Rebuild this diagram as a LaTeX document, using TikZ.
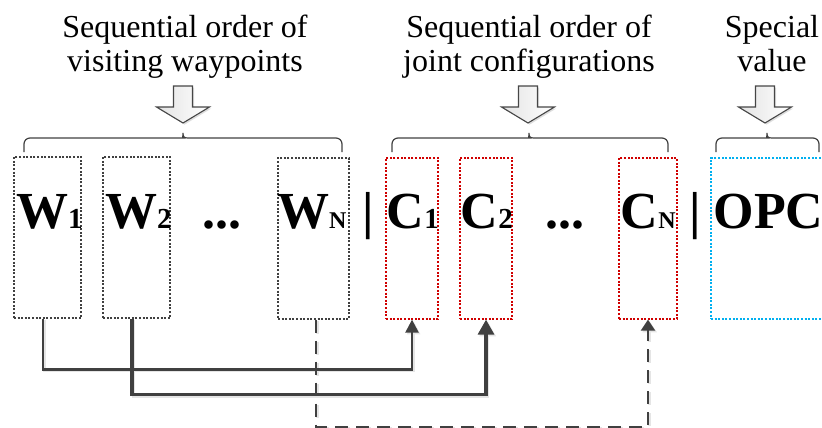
\documentclass[tikz,border=0pt]{standalone}
\usepackage{fontspec}
\setmainfont{Liberation Serif}
\usetikzlibrary{arrows.meta,shadows}

\definecolor{ink}{HTML}{404040}
\definecolor{cfgred}{HTML}{D00000}
\definecolor{opccyan}{HTML}{00B0F0}

% subscripts set at a smaller size on the same baseline
\newcommand\idx[1]{{\fontsize{29}{29}\selectfont #1}}
\newcommand\idxN{{\fontsize{24}{24}\selectfont N}}

% the three connectors from waypoints to configurations
\newcommand\waylinks[1]{%
  \draw[link,#1,line width=2.4pt,-{Triangle[length=13pt,width=13pt]}]
    ([xshift=-4.5pt]w1.south) |- ([yshift=-50pt]c1.south) -- (c1.south);
  \draw[link,#1,line width=3.1pt,-{Triangle[length=15pt,width=16pt]}]
    ([xshift=-4.5pt]w2.south) |- ([yshift=-75pt]c2.south) -- (c2.south);
  \draw[link,#1,line width=2.3pt,dash pattern=on 13pt off 8pt,
        -{Triangle[length=11pt,width=14pt]}]
    ([xshift=2.5pt]wn.south) |- ([yshift=-107pt]cn.south) -- (cn.south);
}

\tikzset{
  slot/.style={line width=1.3pt, dash pattern=on 2pt off 1.6pt,
               minimum height=161pt, inner sep=0pt},
  wslot/.style={slot, draw=ink},
  cslot/.style={slot, draw=cfgred},
  oslot/.style={slot, draw=opccyan},
  glyph/.style={inner sep=0pt, font=\fontsize{52}{52}\selectfont\bfseries},
  title/.style={inner sep=0pt, align=center, font=\fontsize{32}{35}\selectfont},
  brace/.style={draw=ink, line width=1.2pt},
  link/.style={draw=ink, line cap=butt},
  shade/.style={draw=black!10},
  barrow/.style={draw=gray!55!black, line width=1.1pt, line join=miter,
                 left color=gray!22, right color=white,
                 drop shadow={shadow xshift=1.6pt, shadow yshift=-1.6pt,
                              fill=black!13, opacity=1}},
  pics/dropdown/.style={code={
    \draw[barrow] (-9.5,0) -- (9.5,0) -- (9.5,21) -- (26.5,21) -- (0,37)
      -- (-26.5,21) -- (-9.5,21) -- cycle;}}
}

\begin{document}
\begin{tikzpicture}[x=1pt, y=-1pt]
\useasboundingbox (0,0) rectangle (822,428);
\clip (0,0) rectangle (822,428);

% headings (anchored on the baseline of their second line)
\node[title, anchor=base] (ttlw) at (185,72) {Sequential order of\\visiting waypoints};
\node[title, anchor=base] (ttlc) at (529,72) {Sequential order of\\joint configurations};
\node[title, anchor=base] (ttlo) at (772,72) {Special\\value};

% block arrows pointing down at the braces
\pic at (183,86) {dropdown};
\pic at (528,86) {dropdown};
\pic at (765,86) {dropdown};

% braces over each group
\foreach \a/\m/\b in {24/183/342, 392/529/668, 716/767/819} {
  \draw[brace] (\a,152) [rounded corners=6pt] -- (\a,138) -- (\m-5,138)
    [sharp corners] .. controls (\m-1,138) and (\m,137) .. (\m,133)
    .. controls (\m,137) and (\m+1,138) .. (\m+5,138)
    [rounded corners=6pt] -- (\b,138) -- (\b,152);
}

% slots
\node[wslot, minimum width=67pt] (w1) at (47.5,237.5) {};
\node[wslot, minimum width=67pt] (w2) at (136.5,237.5) {};
\node[wslot, minimum width=71pt] (wn) at (313.5,238.5) {};
\node[cslot, minimum width=52pt] (c1) at (412,238.5) {};
\node[cslot, minimum width=52pt] (c2) at (486,238.5) {};
\node[cslot, minimum width=58pt] (cn) at (648,238.5) {};
\node[oslot, minimum width=140pt] (opc) at (781,238.5) {};

% labels inside the slots
\node[glyph, anchor=base west] (tw1) at (16,228) {W\idx{1}};
\node[glyph, anchor=base west] (tw2) at (105,228) {W\idx{2}};
\node[glyph, anchor=base west] (dw) at (202,228) {...};
\node[glyph, anchor=base west] (twn) at (277,228) {W\idxN};
\node[glyph, anchor=base] (bar1) at (368,228) {|};
\node[glyph, anchor=base west] (tc1) at (386.5,228) {C\idx{1}};
\node[glyph, anchor=base west] (tc2) at (460.5,228) {C\idx{2}};
\node[glyph, anchor=base west] (dc) at (545,228) {...};
\node[glyph, anchor=base west] (tcn) at (620.5,228) {C\idxN};
\node[glyph, anchor=base] (bar2) at (695,228) {|};
\node[glyph, anchor=base west] (topc) at (713.5,228) {OPC};

% connectors with a soft shadow underneath
\begin{scope}[transform canvas={shift={(1.6pt,-1.6pt)}}]
  \waylinks{shade}
\end{scope}
\waylinks{}
\end{tikzpicture}
\end{document}
